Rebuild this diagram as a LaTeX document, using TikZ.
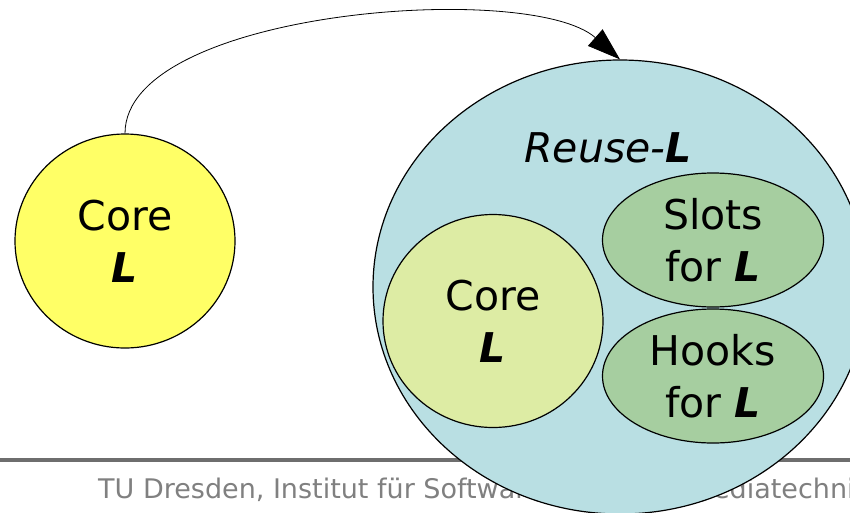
\documentclass[tikz,border=0pt]{standalone}
\usepackage{fontspec}
\setmainfont{DejaVu Sans}
\usetikzlibrary{shapes.geometric,arrows.meta}

\definecolor{coreyellow}{RGB}{255,255,102}
\definecolor{reuseblue}{RGB}{185,223,227}
\definecolor{corelight}{RGB}{221,236,164}
\definecolor{hookgreen}{RGB}{166,206,160}
\definecolor{rulegray}{RGB}{110,110,110}
\definecolor{footgray}{RGB}{128,128,128}

\newcommand{\LL}{\textbf{\textit{L}}}

\tikzset{
  blob/.style={ellipse, draw=black, line width=1.2pt, inner sep=0pt,
    align=center, font=\fontsize{41}{52}\selectfont},
  flowarrow/.style={line width=0.8pt, -{Triangle[length=33pt,width=22pt]}},
}

\begin{document}
\begin{tikzpicture}[x=1pt,y=-1pt]
  \useasboundingbox (0,0) rectangle (850,512);
  \clip (0,0) rectangle (850,512);

  % footer rule and caption
  \draw[rulegray, line width=4pt] (0,460) -- (850,460);
  \node[anchor=base west, inner sep=0pt, text=footgray,
        font=\fontsize{27}{32}\selectfont] (foot) at (98,498)
    {TU Dresden, Institut für Software- und Multimediatechnik};

  % standalone core language
  \node[blob, fill=coreyellow, minimum width=220pt, minimum height=214pt]
    (core) at (125,241) {Core\\\LL};

  % reuse language with its parts
  \node[blob, fill=reuseblue, minimum width=494pt, minimum height=454pt]
    (reuse) at (620,287) {};
  \node[anchor=base, inner sep=0pt, font=\fontsize{41}{52}\selectfont]
    (reusetitle) at (608,162) {\textit{Reuse-}\LL};
  \node[blob, fill=corelight, minimum width=220pt, minimum height=213pt]
    (innercore) at (493,321) {Core\\\LL};
  \node[blob, fill=hookgreen, minimum width=221pt, minimum height=134pt]
    (slots) at (713,240) {Slots\\for \LL};
  \node[blob, fill=hookgreen, minimum width=221pt, minimum height=134pt]
    (hooks) at (713,376) {Hooks\\for \LL};

  % extension arrow
  \draw[flowarrow] (core.north) .. controls (125,10) and (530,-20) .. (reuse.north);
\end{tikzpicture}
\end{document}
